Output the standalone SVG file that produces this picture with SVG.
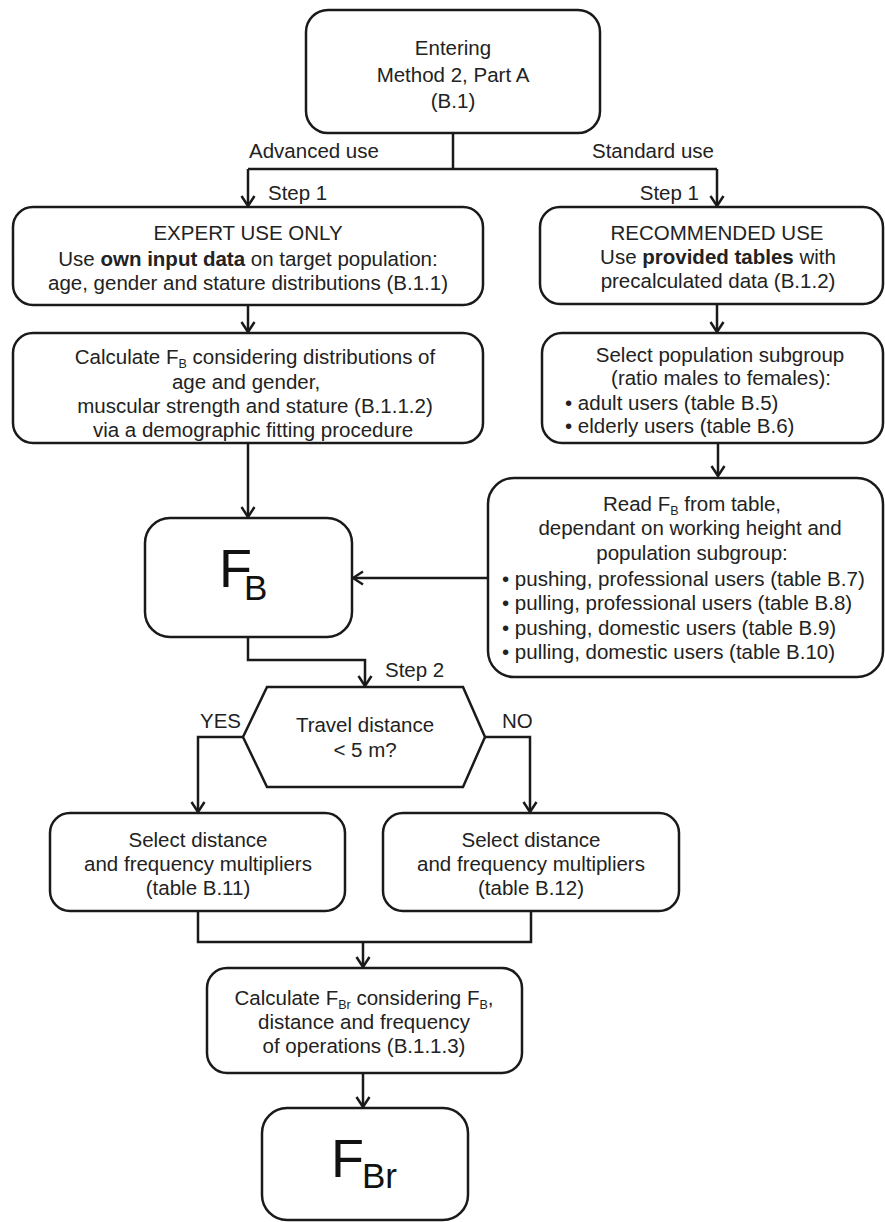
<svg xmlns="http://www.w3.org/2000/svg" width="885" height="1222" viewBox="0 0 885 1222">
  <style>
    .box { fill: #ffffff; stroke: #1a1a1a; stroke-width: 2.5; }
    .wire { fill: none; stroke: #1a1a1a; stroke-width: 2.5; }
    text { font-family: "Liberation Sans", Arial, sans-serif; font-size: 20.5px; fill: #222222; }
    .c { text-anchor: middle; }
    .e { text-anchor: end; }
    .b { font-weight: bold; }
    .sub { font-size: 12.5px; }
    .big { font-size: 54px; fill: #111111; }
    .bigsub { font-size: 35px; fill: #111111; }
  </style>
  <defs>
    <marker id="arrow" viewBox="-1 -8 12 16" refX="10" refY="0" markerWidth="12" markerHeight="16" markerUnits="userSpaceOnUse" orient="auto">
      <path d="M0,-6.5 L10,0 L0,6.5" fill="none" stroke="#1a1a1a" stroke-width="2.5" stroke-linejoin="miter"/>
    </marker>
  </defs>

  <rect width="885" height="1222" fill="#ffffff"/>

  <!-- connectors -->
  <g id="connectors">
    <path class="wire" d="M453,133 V169"/>
    <path class="wire" d="M248,169 H717"/>
    <path class="wire" d="M248,169 V206" marker-end="url(#arrow)"/>
    <path class="wire" d="M717,169 V206" marker-end="url(#arrow)"/>
    <path class="wire" d="M248,305 V332" marker-end="url(#arrow)"/>
    <path class="wire" d="M717,304 V332" marker-end="url(#arrow)"/>
    <path class="wire" d="M248,443 V517" marker-end="url(#arrow)"/>
    <path class="wire" d="M718,443 V476" marker-end="url(#arrow)"/>
    <path class="wire" d="M488,578 H353" marker-end="url(#arrow)"/>
    <path class="wire" d="M248,637 V660 H365 V686" marker-end="url(#arrow)"/>
    <path class="wire" d="M243,737 H198 V812" marker-end="url(#arrow)"/>
    <path class="wire" d="M485,737 H530 V812" marker-end="url(#arrow)"/>
    <path class="wire" d="M198,911 V942 H531 V911"/>
    <path class="wire" d="M363,942 V967" marker-end="url(#arrow)"/>
    <path class="wire" d="M363,1073 V1107" marker-end="url(#arrow)"/>

    <text x="249" y="158">Advanced use</text>
    <text x="592" y="158">Standard use</text>
    <text x="268" y="200">Step  1</text>
    <text x="699" y="200" class="e">Step  1</text>
    <text x="385" y="677">Step  2</text>
    <text x="200" y="728">YES</text>
    <text x="502" y="728">NO</text>
  </g>

  <!-- entry point -->
  <g id="entry">
    <rect class="box" x="306" y="10" width="294" height="123" rx="22"/>
    <text x="453" y="55" class="c">Entering</text>
    <text x="453" y="82" class="c">Method 2, Part A</text>
    <text x="453" y="108" class="c">(B.1)</text>
  </g>

  <!-- advanced branch -->
  <g id="expert-use">
    <rect class="box" x="13" y="207" width="470" height="98" rx="20"/>
    <text x="248" y="240" class="c">EXPERT USE ONLY</text>
    <text x="248" y="266" class="c">Use <tspan class="b">own input data</tspan> on target population:</text>
    <text x="248" y="290" class="c">age, gender and stature distributions (B.1.1)</text>
  </g>

  <g id="calculate-fb">
    <rect class="box" x="13" y="333" width="470" height="110" rx="20"/>
    <text x="255" y="364" class="c">Calculate F<tspan class="sub" dy="4">B</tspan><tspan dy="-4"> considering distributions of</tspan></text>
    <text x="246" y="389" class="c">age and gender,</text>
    <text x="255" y="413" class="c">muscular strength and stature (B.1.1.2)</text>
    <text x="253" y="437" class="c">via a demographic fitting procedure</text>
  </g>

  <!-- standard branch -->
  <g id="recommended-use">
    <rect class="box" x="540" y="207" width="343" height="97" rx="20"/>
    <text x="717" y="240" class="c">RECOMMENDED USE</text>
    <text x="718" y="264" class="c">Use <tspan class="b">provided tables</tspan> with</text>
    <text x="718" y="288" class="c">precalculated data (B.1.2)</text>
  </g>

  <g id="select-subgroup">
    <rect class="box" x="542" y="333" width="341" height="110" rx="20"/>
    <text x="720" y="362" class="c">Select population subgroup</text>
    <text x="721" y="385" class="c">(ratio males to females):</text>
    <text x="565" y="410">• adult users (table B.5)</text>
    <text x="565" y="433">• elderly users (table B.6)</text>
  </g>

  <g id="read-fb">
    <rect class="box" x="488" y="478" width="395" height="199" rx="26"/>
    <text x="692" y="511" class="c">Read F<tspan class="sub" dy="4">B</tspan><tspan dy="-4"> from table,</tspan></text>
    <text x="690" y="535" class="c">dependant on working height and</text>
    <text x="692" y="560" class="c">population subgroup:</text>
    <text x="502" y="586">• pushing, professional users (table B.7)</text>
    <text x="502" y="610">• pulling, professional users (table B.8)</text>
    <text x="502" y="635">• pushing, domestic users (table B.9)</text>
    <text x="502" y="659">• pulling, domestic users (table B.10)</text>
  </g>

  <!-- basic force -->
  <g id="fb">
    <rect class="box" x="145" y="518" width="207" height="119" rx="25"/>
    <text x="219" y="587" class="big">F<tspan class="bigsub" dx="-8" dy="13">B</tspan></text>
  </g>

  <!-- travel distance decision -->
  <g id="travel-distance">
    <polygon class="box" points="267,687 463,687 485,737 463,787 267,787 243,737"/>
    <text x="365" y="732" class="c">Travel distance</text>
    <text x="365" y="757" class="c">&lt; 5 m?</text>
  </g>

  <g id="multipliers-short">
    <rect class="box" x="50" y="813" width="295" height="98" rx="20"/>
    <text x="198" y="847" class="c">Select distance</text>
    <text x="198" y="871" class="c">and frequency multipliers</text>
    <text x="198" y="895" class="c">(table B.11)</text>
  </g>

  <g id="multipliers-long">
    <rect class="box" x="383" y="813" width="296" height="98" rx="20"/>
    <text x="531" y="847" class="c">Select distance</text>
    <text x="531" y="871" class="c">and frequency multipliers</text>
    <text x="531" y="895" class="c">(table B.12)</text>
  </g>

  <g id="calculate-fbr">
    <rect class="box" x="207" y="968" width="315" height="105" rx="20"/>
    <text x="364" y="1005" class="c">Calculate F<tspan class="sub" dy="4">Br</tspan><tspan dy="-4"> considering F</tspan><tspan class="sub" dy="4">B</tspan><tspan dy="-4">,</tspan></text>
    <text x="364" y="1029" class="c">distance and frequency</text>
    <text x="364" y="1053" class="c">of operations (B.1.1.3)</text>
  </g>

  <!-- reference force -->
  <g id="fbr">
    <rect class="box" x="262" y="1108" width="206" height="112" rx="25"/>
    <text x="331" y="1177" class="big">F<tspan class="bigsub" dx="-2" dy="11">Br</tspan></text>
  </g>
</svg>
